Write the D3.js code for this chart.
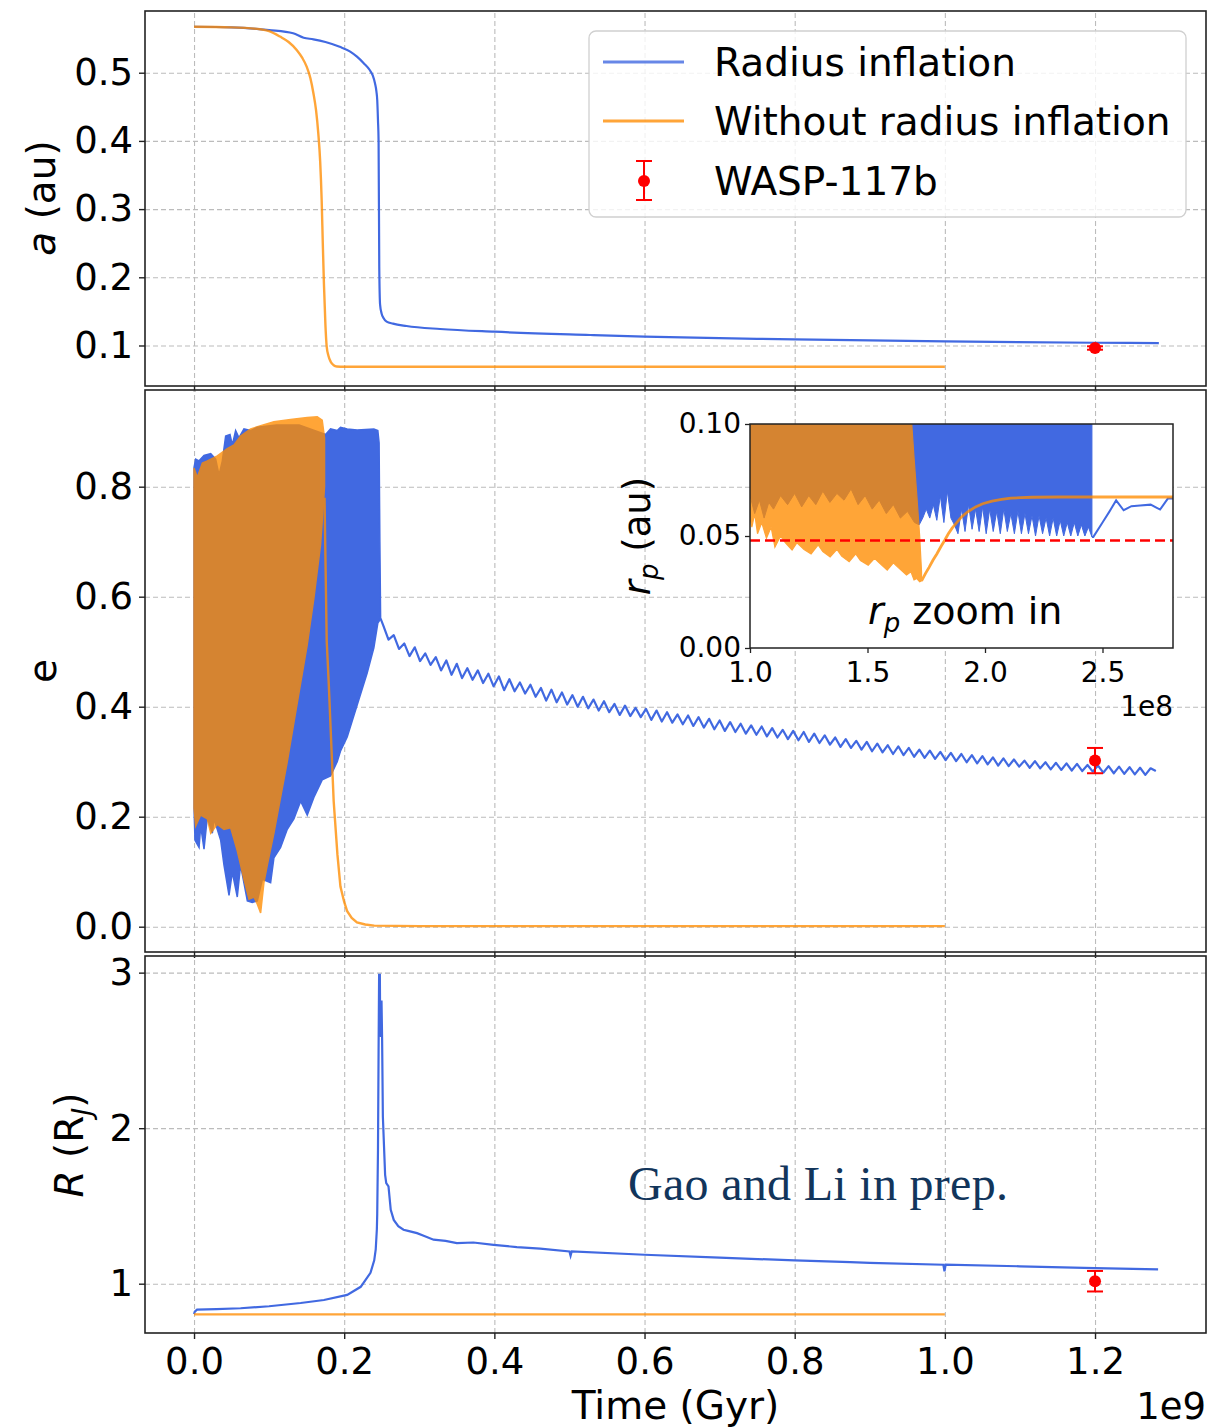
<!DOCTYPE html>
<html><head><meta charset="utf-8">
<script src="https://cdn.jsdelivr.net/npm/d3@7"></script>
<style>
body{margin:0;background:#fff}
svg text{font-family:"DejaVu Sans",sans-serif;fill:#000}
</style></head>
<body><svg id="c" width="1225" height="1427"></svg>
<script>
// ---------------- DATA ----------------
const xTicks = [0.0, 0.2, 0.4, 0.6, 0.8, 1.0, 1.2];
const aTicks = [0.1, 0.2, 0.3, 0.4, 0.5];
const eTicks = [0.0, 0.2, 0.4, 0.6, 0.8];
const rTicks = [1, 2, 3];
const insetXTicks = [1.0, 1.5, 2.0, 2.5];
const insetYTicks = [0.00, 0.05, 0.10];

// semi-major axis (au) vs time (Gyr)
const aBlueT = [0, 0.05, 0.10, 0.132, 0.146, 0.159, 0.175, 0.194, 0.208, 0.217, 0.226, 0.234, 0.238, 0.241, 0.243, 0.244, 0.245, 0.2458, 0.2467, 0.2478, 0.2498, 0.2525, 0.2565, 0.265, 0.283, 0.3277, 0.40, 0.5275, 0.6, 0.8, 1.0, 1.2, 1.285];
const aBlueV = [0.5674, 0.5665, 0.5625, 0.5578, 0.5513, 0.549, 0.545, 0.538, 0.531, 0.5235, 0.514, 0.504, 0.496, 0.4845, 0.472, 0.460, 0.43, 0.40, 0.2155, 0.16, 0.147, 0.140, 0.135, 0.132, 0.1286, 0.1242, 0.1202, 0.1154, 0.113, 0.109, 0.106, 0.104, 0.1035];
const aOrT = [0, 0.05, 0.088, 0.10, 0.1145, 0.126, 0.137, 0.144, 0.150, 0.155, 0.159, 0.1625, 0.1655, 0.168, 0.170, 0.1715, 0.173, 0.175, 0.1767, 0.179, 0.182, 0.186, 0.190, 0.2, 1.0];
const aOrV = [0.5674, 0.5665, 0.5637, 0.561, 0.553, 0.545, 0.533, 0.522, 0.509, 0.492, 0.470, 0.445, 0.411, 0.37, 0.313, 0.25, 0.191, 0.13, 0.0982, 0.085, 0.0762, 0.071, 0.0692, 0.0689, 0.0689];

// eccentricity: fast-oscillation envelopes
const eBlueUpT = [0, 0.0022, 0.0067, 0.0133, 0.0222, 0.0288, 0.0333, 0.0377, 0.0421, 0.0479, 0.0510, 0.0554, 0.0599, 0.0665, 0.0754, 0.0843, 0.110, 0.140, 0.1752, 0.1818, 0.1907, 0.1951, 0.204, 0.2173, 0.2395, 0.2448, 0.2465, 0.2475, 0.2485];
const eBlueUpV = [0.835, 0.850, 0.847, 0.857, 0.860, 0.850, 0.821, 0.847, 0.892, 0.895, 0.876, 0.902, 0.889, 0.905, 0.902, 0.908, 0.912, 0.912, 0.895, 0.905, 0.902, 0.908, 0.905, 0.903, 0.905, 0.902, 0.880, 0.700, 0.560];
const eBlueLoT = [0, 0.0013, 0.0067, 0.0089, 0.0133, 0.0177, 0.0244, 0.0266, 0.0355, 0.0399, 0.0466, 0.051, 0.0576, 0.062, 0.071, 0.0776, 0.0843, 0.091, 0.102, 0.1064, 0.1153, 0.1242, 0.133, 0.142, 0.1508, 0.1596, 0.1707, 0.1818, 0.1907, 0.195, 0.204, 0.2173, 0.2306, 0.2395, 0.2448, 0.2485];
const eBlueLoV = [0.216, 0.157, 0.144, 0.183, 0.141, 0.199, 0.170, 0.196, 0.157, 0.112, 0.057, 0.099, 0.054, 0.112, 0.047, 0.044, 0.047, 0.086, 0.080, 0.125, 0.144, 0.177, 0.196, 0.228, 0.203, 0.235, 0.267, 0.274, 0.300, 0.319, 0.345, 0.403, 0.461, 0.507, 0.552, 0.560];
// eccentricity after circularisation phase (radius inflation), sampled every 0.007 Gyr from 0.252 Gyr
const eDecayStart = 0.252, eDecayStep = 0.007;
const eDecayV = [
 0.548,0.522,0.530,0.505,0.515,0.492,0.508,0.483,0.497,0.476,
 0.490,0.466,0.484,0.458,0.478,0.452,0.470,0.449,0.466,0.443,
 0.460,0.437,0.455,0.430,0.450,0.428,0.444,0.424,0.440,0.418,
 0.434,0.411,0.431,0.408,0.426,0.404,0.421,0.400,0.418,0.397,
 0.413,0.393,0.410,0.390,0.405,0.385,0.402,0.383,0.398,0.381,
 0.396,0.376,0.393,0.373,0.390,0.371,0.386,0.368,0.384,0.365,
 0.381,0.362,0.378,0.359,0.375,0.356,0.372,0.354,0.369,0.351,
 0.366,0.349,0.364,0.346,0.361,0.344,0.358,0.341,0.356,0.339,
 0.354,0.336,0.351,0.334,0.348,0.331,0.344,0.327,0.341,0.325,
 0.338,0.322,0.336,0.319,0.333,0.317,0.330,0.314,0.328,0.312,
 0.325,0.309,0.322,0.307,0.320,0.305,0.318,0.303,0.316,0.301,
 0.314,0.299,0.312,0.297,0.310,0.295,0.308,0.293,0.306,0.292,
 0.304,0.291,0.302,0.289,0.301,0.288,0.299,0.286,0.298,0.285,
 0.297,0.284,0.296,0.283,0.294,0.282,0.293,0.280,0.292,0.279,
 0.291,0.278,0.290,0.277,0.289,0.276,0.288,0.283];
const eOrUpT = [0, 0.0044, 0.0111, 0.0177, 0.031, 0.0443, 0.0532, 0.062, 0.0754, 0.0887, 0.1064, 0.1286, 0.1508, 0.1641, 0.1707, 0.1738];
const eOrUpV = [0.834, 0.817, 0.843, 0.847, 0.856, 0.869, 0.876, 0.892, 0.905, 0.911, 0.918, 0.922, 0.926, 0.927, 0.921, 0.889];
const eOrLoT = [0, 0.0022, 0.0089, 0.0177, 0.0222, 0.031, 0.0399, 0.0488, 0.0576, 0.0665, 0.0732, 0.0798, 0.0843, 0.0887, 0.0931, 0.0976, 0.1064, 0.1153, 0.1242, 0.133, 0.1419, 0.1508, 0.1596, 0.1685, 0.172, 0.1738];
const eOrLoV = [0.216, 0.183, 0.203, 0.196, 0.170, 0.186, 0.177, 0.180, 0.138, 0.086, 0.050, 0.054, 0.041, 0.025, 0.080, 0.112, 0.170, 0.235, 0.300, 0.371, 0.442, 0.513, 0.597, 0.694, 0.762, 0.80];
const eOrTailT = [0.1738, 0.1767, 0.1795, 0.182, 0.186, 0.191, 0.195, 0.200, 0.204, 0.210, 0.217, 0.228, 0.24, 0.30, 1.0];
const eOrTailV = [0.78, 0.52, 0.44, 0.358, 0.228, 0.131, 0.073, 0.045, 0.028, 0.016, 0.008, 0.004, 0.002, 0.001, 0.001];

// planet radius (R_J)
const rBlueT = [0, 0.001, 0.004, 0.03, 0.062, 0.1, 0.142, 0.173, 0.204, 0.222, 0.235, 0.240, 0.242, 0.2435, 0.244, 0.245, 0.2458, 0.2465, 0.2475, 0.248, 0.249, 0.2497, 0.2505, 0.2515, 0.2545, 0.256, 0.259, 0.262, 0.266, 0.272, 0.279, 0.285, 0.297, 0.305, 0.319, 0.335, 0.350, 0.372, 0.399, 0.43, 0.461, 0.50, 0.5015, 0.503, 0.6, 0.7, 0.8, 0.874, 0.9, 0.998, 0.9995, 1.001, 1.1, 1.2, 1.284];
const rBlueV = [0.805, 0.82, 0.833, 0.836, 0.842, 0.855, 0.876, 0.895, 0.928, 0.98, 1.07, 1.15, 1.22, 1.35, 1.45, 1.86, 2.5, 2.985, 2.985, 2.6, 2.59, 2.82, 2.57, 2.075, 1.70, 1.647, 1.625, 1.475, 1.41, 1.37, 1.347, 1.34, 1.325, 1.31, 1.283, 1.275, 1.261, 1.265, 1.25, 1.235, 1.225, 1.207, 1.18, 1.207, 1.186, 1.167, 1.15, 1.139, 1.134, 1.122, 1.08, 1.122, 1.112, 1.10, 1.092];
const rOrT = [0, 1.0];
const rOrV = [0.803, 0.803];

// WASP-117b observation
const waspT = 1.2;
const waspA = 0.0963, waspAErr = 0.0025;
const waspE = 0.302, waspEErr = 0.023;
const waspR = 1.016, waspRErr = 0.066;

// inset: pericentre distance r_p (au) vs time (1e8 yr)
const biT = [1.0,1.02,1.04,1.06,1.08,1.10,1.13,1.16,1.19,1.22,1.25,1.28,1.31,1.34,1.37,1.40,1.43,1.46,1.49,1.52,1.55,1.58,1.61,1.64,1.67,1.70,
 1.72,1.735,1.75,1.765,1.78,1.795,1.81,1.825,1.84,1.855,1.87,1.885,1.90,1.915,1.93,1.945,1.96,1.975,1.99,2.005,2.02,2.035,2.05,2.065,2.08,2.095,2.11,2.125,2.14,2.155,2.17,2.185,2.20,2.215,2.23,2.245,2.26,2.275,2.29,2.305,2.32,2.335,2.35,2.365,2.38,2.395,2.41,2.425,2.44,2.455];
const biLo = [0.068,0.060,0.066,0.058,0.065,0.062,0.068,0.064,0.069,0.063,0.068,0.064,0.070,0.065,0.069,0.066,0.071,0.064,0.068,0.062,0.066,0.060,0.064,0.058,0.061,0.056,
 0.055,0.058,0.062,0.058,0.064,0.057,0.068,0.056,0.070,0.058,0.055,0.051,0.062,0.052,0.064,0.053,0.062,0.052,0.063,0.051,0.062,0.052,0.061,0.051,0.062,0.052,0.060,0.051,0.061,0.051,0.060,0.051,0.059,0.050,0.059,0.051,0.058,0.050,0.058,0.050,0.057,0.050,0.056,0.050,0.056,0.050,0.055,0.050,0.054,0.0496];
const biHi = 0.12;
const biLineT = [2.455, 2.461, 2.50, 2.53, 2.558, 2.59, 2.623, 2.66, 2.705, 2.745, 2.778, 2.80];
const biLineV = [0.0496, 0.0496, 0.056, 0.061, 0.0659, 0.0615, 0.0633, 0.0636, 0.064, 0.0618, 0.0667, 0.0667];
const oiT = [1.0,1.008,1.02,1.032,1.05,1.07,1.09,1.106,1.13,1.15,1.179,1.20,1.23,1.26,1.29,1.31,1.341,1.37,1.39,1.422,1.45,1.47,1.503,1.53,1.55,1.584,1.61,1.63,1.666,1.685,1.698,1.71,1.722,1.73];
const oiLo = [0.058,0.054,0.060,0.051,0.056,0.049,0.054,0.045,0.050,0.047,0.0437,0.047,0.044,0.042,0.046,0.043,0.0407,0.044,0.041,0.0385,0.042,0.039,0.037,0.040,0.038,0.0348,0.038,0.036,0.0326,0.034,0.0304,0.031,0.0296,0.030];
const oiHi = [0.12,0.12,0.12,0.12,0.12,0.12,0.12,0.12,0.12,0.12,0.12,0.12,0.12,0.12,0.12,0.12,0.12,0.12,0.12,0.12,0.12,0.12,0.12,0.12,0.12,0.12,0.12,0.12,0.12,0.105,0.085,0.068,0.050,0.034];
const oiLineT = [1.73, 1.747, 1.762, 1.779, 1.795, 1.812, 1.828, 1.844, 1.86, 1.877, 1.90, 1.925, 1.96, 1.99, 2.03, 2.071, 2.11, 2.153, 2.2, 2.315, 2.5, 2.8];
const oiLineV = [0.030, 0.0333, 0.036, 0.0393, 0.042, 0.0452, 0.048, 0.051, 0.0535, 0.0556, 0.0585, 0.0607, 0.063, 0.0644, 0.0656, 0.0664, 0.0669, 0.0671, 0.0673, 0.0674, 0.0674, 0.0674];
const rocheLimit = 0.048;

// ---------------- DRAW ----------------
const BLUE = "#4169E1", ORANGE = "#FF8C00", OR_OP = 0.78, RED = "#FF0000";
const TICK_FS = 37, LABEL_FS = 39;
const svg = d3.select("#c");
const X0 = 145, X1 = 1206;
const x = d3.scaleLinear().domain([-0.0653, 1.3478]).range([X0, X1]);
const zip = (t, v) => t.map((d, i) => [d, v[i]]);

function panel(id, top, bot, dom, ticks, showX) {
  const y = d3.scaleLinear().domain(dom).range([bot, top]);
  const g = svg.append("g");
  g.append("clipPath").attr("id", "clip-" + id).append("rect")
    .attr("x", X0).attr("y", top).attr("width", X1 - X0).attr("height", bot - top);
  const gx = g.append("g").attr("transform", `translate(0,${bot})`)
    .call(d3.axisBottom(x).tickValues(xTicks).tickSize(-(bot - top)).tickFormat(""));
  const gy = g.append("g").attr("transform", `translate(${X0},0)`)
    .call(d3.axisLeft(y).tickValues(ticks).tickSize(-(X1 - X0)).tickFormat(""));
  [gx, gy].forEach(a => { a.select(".domain").remove();
    a.selectAll("line").attr("stroke", "#bcbcbc").attr("stroke-width", 1.1).attr("stroke-dasharray", "5,3"); });
  const data = g.append("g").attr("clip-path", `url(#clip-${id})`);
  const over = g.append("g");
  return { y, g, data, over, top, bot, ticks, showX, id };
}
function finishPanel(p, fmt) {
  const g = p.over;
  g.append("rect").attr("x", X0).attr("y", p.top).attr("width", X1 - X0).attr("height", p.bot - p.top)
    .attr("fill", "none").attr("stroke", "#222").attr("stroke-width", 1.6);
  const ax = g.append("g").attr("transform", `translate(${X0},0)`)
    .call(d3.axisLeft(p.y).tickValues(p.ticks).tickSize(6).tickPadding(6).tickFormat(fmt));
  const bx = g.append("g").attr("transform", `translate(0,${p.bot})`)
    .call(d3.axisBottom(x).tickValues(xTicks).tickSize(6).tickPadding(9)
      .tickFormat(p.showX ? d3.format(".1f") : ""));
  [ax, bx].forEach(a => { a.select(".domain").remove();
    a.selectAll("line").attr("stroke", "#222").attr("stroke-width", 1.4);
    a.selectAll("text").attr("font-size", TICK_FS).attr("font-family", "DejaVu Sans").attr("fill", "#000"); });
}
function errbar(g, y, t, v, err) {
  const cx = x(t), cy = y(v), y0 = y(v - err), y1 = y(v + err);
  g.append("line").attr("x1", cx).attr("x2", cx).attr("y1", y0).attr("y2", y1).attr("stroke", RED).attr("stroke-width", 2);
  [y0, y1].forEach(yy => g.append("line").attr("x1", cx - 8).attr("x2", cx + 8).attr("y1", yy).attr("y2", yy).attr("stroke", RED).attr("stroke-width", 2));
  g.append("circle").attr("cx", cx).attr("cy", cy).attr("r", 6).attr("fill", RED);
}

// ---- panel a ----
const pA = panel("a", 11, 386, [0.0406, 0.5905], aTicks, false);
{
  const line = d3.line().curve(d3.curveMonotoneX).x(d => x(d[0])).y(d => pA.y(d[1]));
  pA.data.append("path").attr("d", line(zip(aBlueT, aBlueV))).attr("fill", "none").attr("stroke", BLUE).attr("stroke-width", 2.2);
  pA.data.append("g").attr("opacity", OR_OP).append("path").attr("d", line(zip(aOrT, aOrV)))
    .attr("fill", "none").attr("stroke", ORANGE).attr("stroke-width", 2.4);
  errbar(pA.data, pA.y, waspT, waspA, waspAErr);
}
finishPanel(pA, d3.format(".1f"));

// ---- panel e ----
const pE = panel("e", 390, 952, [-0.046, 0.9758], eTicks, false);
{
  const line = d3.line().x(d => x(d[0])).y(d => pE.y(d[1]));
  const blueBand = zip(eBlueUpT, eBlueUpV).concat(zip(eBlueLoT, eBlueLoV).reverse());
  pE.data.append("path").attr("d", line(blueBand) + "Z").attr("fill", BLUE).attr("stroke", BLUE).attr("stroke-width", 1.5);
  const decay = [[0.2485, 0.560]].concat(eDecayV.map((v, i) => [eDecayStart + i * eDecayStep, v]));
  pE.data.append("path").attr("d", line(decay)).attr("fill", "none").attr("stroke", BLUE).attr("stroke-width", 2.2).attr("stroke-linejoin", "round");
  const og = pE.data.append("g").attr("opacity", OR_OP);
  const orBand = zip(eOrUpT, eOrUpV).concat(zip(eOrLoT, eOrLoV).reverse());
  og.append("path").attr("d", line(orBand) + "Z").attr("fill", ORANGE).attr("stroke", ORANGE).attr("stroke-width", 1.5);
  og.append("path").attr("d", line(zip(eOrTailT, eOrTailV))).attr("fill", "none").attr("stroke", ORANGE).attr("stroke-width", 2.4);
  errbar(pE.data, pE.y, waspT, waspE, waspEErr);
}
finishPanel(pE, d3.format(".1f"));

// ---- panel R ----
const pR = panel("r", 956, 1333, [0.683, 3.107], rTicks, true);
{
  const line = d3.line().x(d => x(d[0])).y(d => pR.y(d[1]));
  pR.data.append("path").attr("d", line(zip(rBlueT, rBlueV))).attr("fill", "none").attr("stroke", BLUE).attr("stroke-width", 2.2);
  pR.data.append("g").attr("opacity", OR_OP).append("path").attr("d", line(zip(rOrT, rOrV)))
    .attr("fill", "none").attr("stroke", ORANGE).attr("stroke-width", 2.4);
  errbar(pR.data, pR.y, waspT, waspR, waspRErr);
}
finishPanel(pR, d3.format("d"));

// ---- inset ----
{
  const IX0 = 750, IX1 = 1173, IY0 = 424, IY1 = 648;
  const xi = d3.scaleLinear().domain([1.0, 2.8]).range([IX0, IX1]);
  const yi = d3.scaleLinear().domain([0, 0.1]).range([IY1, IY0]);
  const g = svg.append("g");
  g.append("rect").attr("x", IX0).attr("y", IY0).attr("width", IX1 - IX0).attr("height", IY1 - IY0).attr("fill", "#fff");
  g.append("clipPath").attr("id", "clip-in").append("rect").attr("x", IX0).attr("y", IY0).attr("width", IX1 - IX0).attr("height", IY1 - IY0);
  const d = g.append("g").attr("clip-path", "url(#clip-in)");
  const line = d3.line().x(p => xi(p[0])).y(p => yi(p[1]));
  const area = d3.area().x(p => xi(p[0])).y0(p => yi(p[1])).y1(p => yi(p[2]));
  d.append("path").attr("d", area(biT.map((t, i) => [t, biLo[i], biHi]))).attr("fill", BLUE).attr("stroke", BLUE).attr("stroke-width", 1);
  d.append("path").attr("d", line(zip(biLineT, biLineV))).attr("fill", "none").attr("stroke", BLUE).attr("stroke-width", 2);
  const og = d.append("g").attr("opacity", OR_OP);
  og.append("path").attr("d", area(oiT.map((t, i) => [t, oiLo[i], oiHi[i]]))).attr("fill", ORANGE).attr("stroke", ORANGE).attr("stroke-width", 1.2);
  og.append("path").attr("d", line(zip(oiLineT, oiLineV))).attr("fill", "none").attr("stroke", ORANGE).attr("stroke-width", 2.8);
  d.append("line").attr("x1", IX0).attr("x2", IX1).attr("y1", yi(rocheLimit)).attr("y2", yi(rocheLimit))
    .attr("stroke", RED).attr("stroke-width", 2.5).attr("stroke-dasharray", "10,5");
  g.append("rect").attr("x", IX0).attr("y", IY0).attr("width", IX1 - IX0).attr("height", IY1 - IY0)
    .attr("fill", "none").attr("stroke", "#222").attr("stroke-width", 1.5);
  const ay = g.append("g").attr("transform", `translate(${IX0},0)`)
    .call(d3.axisLeft(yi).tickValues(insetYTicks).tickSize(5).tickPadding(4).tickFormat(d3.format(".2f")));
  const ax = g.append("g").attr("transform", `translate(0,${IY1})`)
    .call(d3.axisBottom(xi).tickValues(insetXTicks).tickSize(5).tickPadding(9).tickFormat(d3.format(".1f")));
  [ay, ax].forEach(a => { a.select(".domain").remove();
    a.selectAll("line").attr("stroke", "#222").attr("stroke-width", 1.3);
    a.selectAll("text").attr("font-size", 28).attr("font-family", "DejaVu Sans").attr("fill", "#000"); });
  g.append("text").attr("x", IX1).attr("y", 716).attr("text-anchor", "end").attr("font-size", 28).text("1e8");
  const yl = g.append("text").attr("transform", "translate(650,536) rotate(-90)").attr("text-anchor", "middle").attr("font-size", 37);
  yl.append("tspan").attr("font-style", "italic").text("r");
  yl.append("tspan").attr("font-style", "italic").attr("font-size", 26).attr("dy", 8).text("p");
  yl.append("tspan").attr("dy", -8).text(" (au)");
  const zt = g.append("text").attr("x", 868).attr("y", 624).attr("font-size", 38);
  zt.append("tspan").attr("font-style", "italic").text("r");
  zt.append("tspan").attr("font-style", "italic").attr("font-size", 26).attr("dy", 8).text("p");
  zt.append("tspan").attr("dy", -8).text(" zoom in");
}

// ---- axis labels ----
{
  const la = svg.append("text").attr("transform", "translate(55,198) rotate(-90)").attr("text-anchor", "middle").attr("font-size", LABEL_FS);
  la.append("tspan").attr("font-style", "italic").text("a");
  la.append("tspan").text(" (au)");
  svg.append("text").attr("transform", "translate(56,671) rotate(-90)").attr("text-anchor", "middle").attr("font-size", LABEL_FS).text("e");
  const lr = svg.append("text").attr("transform", "translate(83,1145) rotate(-90)").attr("text-anchor", "middle").attr("font-size", LABEL_FS);
  lr.append("tspan").attr("font-style", "italic").text("R");
  lr.append("tspan").text(" (R");
  lr.append("tspan").attr("font-style", "italic").attr("font-size", 27).attr("dy", 8).text("J");
  lr.append("tspan").attr("dy", -8).text(")");
  svg.append("text").attr("x", (X0 + X1) / 2).attr("y", 1419).attr("text-anchor", "middle").attr("font-size", LABEL_FS).text("Time (Gyr)");
  svg.append("text").attr("x", X1).attr("y", 1419).attr("text-anchor", "end").attr("font-size", TICK_FS).text("1e9");
  svg.append("text").attr("x", 628).attr("y", 1200).attr("font-size", 48).attr("textLength", 380)
    .style("font-family", "Liberation Serif").style("fill", "#12355B").text("Gao and Li in prep.");
}

// ---- legend ----
{
  const g = svg.append("g");
  g.append("rect").attr("x", 589).attr("y", 31).attr("width", 597).attr("height", 186).attr("rx", 7)
    .attr("fill", "#fff").attr("fill-opacity", 0.8).attr("stroke", "#d0d0d0").attr("stroke-width", 1.3);
  const items = [["Radius inflation", 62], ["Without radius inflation", 121], ["WASP-117b", 181]];
  g.append("line").attr("x1", 603).attr("x2", 684).attr("y1", 62).attr("y2", 62).attr("stroke", BLUE).attr("stroke-opacity", 0.8).attr("stroke-width", 3);
  g.append("line").attr("x1", 603).attr("x2", 684).attr("y1", 121).attr("y2", 121).attr("stroke", ORANGE).attr("stroke-opacity", OR_OP).attr("stroke-width", 3);
  g.append("line").attr("x1", 644).attr("x2", 644).attr("y1", 161).attr("y2", 200).attr("stroke", RED).attr("stroke-width", 2);
  [161, 200].forEach(yy => g.append("line").attr("x1", 636).attr("x2", 652).attr("y1", yy).attr("y2", yy).attr("stroke", RED).attr("stroke-width", 2));
  g.append("circle").attr("cx", 644).attr("cy", 181).attr("r", 6).attr("fill", RED);
  items.forEach(([t, yy]) => g.append("text").attr("x", 714).attr("y", yy + 14).attr("font-size", LABEL_FS).text(t));
}
</script></body></html>
